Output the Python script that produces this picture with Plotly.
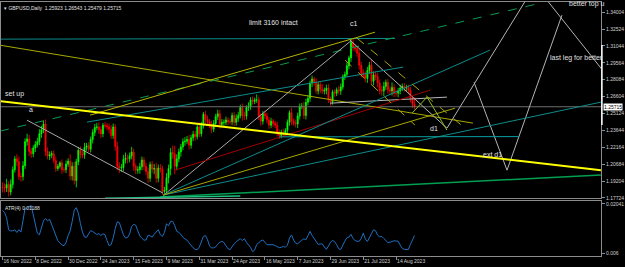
import plotly.graph_objects as go
import pandas as pd

# ---------------- data ----------------
dates = pd.bdate_range("2022-11-16", "2023-08-25")
dates = dates[dates != pd.Timestamp("2023-01-02")]
bars = list(range(len(dates)))

close_nov = [1.1865, 1.1860, 1.1890, 1.1825, 1.1890, 1.2020, 1.2115, 1.2090, 1.1960, 1.1960, 1.2055]
close_dec = [1.2265, 1.2290, 1.2180, 1.2160, 1.2210, 1.2240, 1.2265, 1.2335, 1.2370, 1.2420, 1.2180,
             1.2140, 1.2150, 1.2160, 1.2100, 1.2030, 1.2050, 1.2080, 1.2020, 1.2020, 1.2070, 1.2095]
close_jan = [1.1965, 1.2050, 1.1925, 1.2090, 1.2190, 1.2155, 1.2150, 1.2215, 1.2230, 1.2200, 1.2285,
             1.2345, 1.2390, 1.2395, 1.2370, 1.2335, 1.2410, 1.2405, 1.2395, 1.2375, 1.2320]
close_feb = [1.2395, 1.2225, 1.2050, 1.2035, 1.2040, 1.2110, 1.2120, 1.2115, 1.2140, 1.2175, 1.2050,
             1.2015, 1.2020, 1.2045, 1.2105, 1.2050, 1.2005, 1.1945, 1.2065, 1.2025]
close_mar = [1.2030, 1.1945, 1.2035, 1.2025, 1.1830, 1.1840, 1.1950, 1.2030, 1.2170, 1.2160, 1.2050,
             1.2115, 1.2175, 1.2220, 1.2265, 1.2270, 1.2285, 1.2235, 1.2300, 1.2330, 1.2310, 1.2395, 1.2335]
close_apr = [1.2410, 1.2505, 1.2460, 1.2440, 1.2410, 1.2375, 1.2425, 1.2485, 1.2510, 1.2415, 1.2435,
             1.2435, 1.2455, 1.2440, 1.2440, 1.2495, 1.2435, 1.2470, 1.2495, 1.2565]
close_may = [1.2490, 1.2490, 1.2565, 1.2570, 1.2630, 1.2620, 1.2630, 1.2630, 1.2485, 1.2445, 1.2510,
             1.2490, 1.2455, 1.2410, 1.2445, 1.2425, 1.2410, 1.2345, 1.2320, 1.2345, 1.2340, 1.2365, 1.2435]
close_jun = [1.2520, 1.2445, 1.2430, 1.2420, 1.2490, 1.2575, 1.2575, 1.2495, 1.2610, 1.2645, 1.2780,
             1.2815, 1.2785, 1.2710, 1.2765, 1.2725, 1.2710, 1.2715, 1.2735, 1.2635, 1.2615, 1.2700]
close_jul = [1.2690, 1.2720, 1.2710, 1.2745, 1.2835, 1.2855, 1.2930, 1.3000, 1.3135, 1.3090, 1.3080,
             1.3040, 1.2935, 1.2865, 1.2855, 1.2820, 1.2890, 1.2935, 1.2795, 1.2850, 1.2835]
close_aug = [1.2780, 1.2715, 1.2710, 1.2750, 1.2785, 1.2720, 1.2710, 1.2740, 1.2690, 1.2690, 1.2710,
             1.2735, 1.2750, 1.2735, 1.2740, 1.2715, 1.2645, 1.2592, 1.25715]
closes = close_nov + close_dec + close_jan + close_feb + close_mar + close_apr + close_may + close_jun + close_jul + close_aug
first_open = 1.1870

# wick sizes in pips
up_wick = [40, 35, 50, 30, 45, 30, 25, 40, 45, 35, 40,
           30, 45, 35, 30, 25, 30, 35, 40, 35, 30, 40, 35, 30, 25, 30, 35, 20, 15, 30, 25, 30, 25,
           60, 35, 40, 25, 30, 35, 30, 40, 25, 30, 25, 30, 30, 35, 40, 30, 20, 30, 25, 30, 35,
           30, 25, 40, 35, 30, 40, 50, 35, 30, 45, 30, 25, 30, 35, 30, 25, 30, 35, 25, 30,
           40, 50, 30, 35, 30, 30, 40, 35, 40, 60, 70, 40, 30, 25, 30, 35, 30, 40, 25, 30, 30, 20, 40,
           30, 20, 30, 35, 25, 40, 30, 25, 35, 35, 30, 25, 30, 25, 30, 25, 30, 35, 30, 25,
           35, 40, 20, 40, 25, 30, 20, 50, 30, 30, 25, 30, 30, 25, 30, 20, 25, 30, 25, 25, 30, 20, 25,
           20, 40, 25, 30, 30, 25, 30, 40, 30, 30, 20, 30, 20, 35, 25, 30, 45, 25, 30, 35, 25, 20,
           25, 20, 35, 30, 20, 25, 30, 20, 30, 35, 30, 25, 40, 30, 35, 25, 30, 30, 45, 30, 30,
           35, 30, 40, 40, 25, 30, 30, 45, 30, 30, 25, 30, 25, 30, 25, 25, 30, 20, 62.8]
dn_wick = [45, 40, 35, 40, 30, 35, 25, 40, 30, 45, 35,
           30, 35, 40, 35, 30, 35, 25, 30, 35, 30, 40, 30, 35, 30, 25, 30, 20, 20, 35, 25, 30, 25,
           35, 40, 35, 60, 30, 35, 30, 35, 30, 25, 30, 35, 30, 25, 35, 40, 30, 25, 30, 35, 30,
           30, 40, 35, 45, 35, 30, 35, 40, 30, 30, 40, 35, 30, 35, 30, 35, 30, 40, 30, 35,
           45, 40, 35, 30, 30, 35, 40, 50, 60, 45, 70, 35, 30, 40, 30, 35, 25, 40, 30, 30, 35, 25, 30,
           25, 30, 35, 30, 25, 35, 25, 30, 30, 35, 25, 30, 25, 30, 25, 30, 35, 30, 30, 25,
           40, 35, 30, 30, 25, 30, 25, 25, 30, 40, 30, 25, 30, 35, 25, 30, 25, 35, 30, 25, 30, 25, 30,
           30, 35, 25, 30, 35, 30, 25, 30, 35, 25, 30, 35, 30, 25, 30, 35, 25, 30, 35, 30, 35, 25,
           30, 25, 30, 35, 25, 30, 25, 30, 35, 30, 25, 30, 40, 35, 30, 35, 40, 30, 35, 35, 30,
           40, 35, 40, 45, 30, 35, 30, 40, 35, 30, 35, 30, 25, 30, 30, 30, 35, 30, 23.6]

atr4 = [0.01850, 0.01790, 0.01635, 0.01281, 0.01251, 0.01253, 0.01280, 0.01204, 0.01285, 0.01215,
        0.01551, 0.01922, 0.01912, 0.01973, 0.01994, 0.01742, 0.01447, 0.01185, 0.01135, 0.01359,
        0.01546, 0.01613, 0.01549, 0.01591, 0.01430, 0.01249, 0.01068, 0.00958, 0.00897, 0.00836,
        0.00816, 0.00907, 0.01112, 0.01255, 0.01527, 0.01862, 0.01934, 0.01774, 0.01472, 0.01217,
        0.01070, 0.01060, 0.01162, 0.01257, 0.01232, 0.01195, 0.01143, 0.01172, 0.01113, 0.01165,
        0.01139, 0.00964, 0.00814, 0.00848, 0.01045, 0.01323, 0.01521, 0.01492, 0.01276, 0.01132,
        0.01044, 0.01056, 0.01161, 0.01384, 0.01444, 0.01416, 0.01252, 0.01100, 0.01034, 0.00979,
        0.00982, 0.01122, 0.01104, 0.01069, 0.01151, 0.01222, 0.01285, 0.01138, 0.01084, 0.01205,
        0.01458, 0.01403, 0.01531, 0.01531, 0.01410, 0.01236, 0.01206, 0.01151, 0.01061, 0.01017,
        0.00979, 0.00899, 0.00819, 0.00753, 0.00705, 0.00698, 0.00772, 0.00955, 0.01086, 0.01113,
        0.00992, 0.00808, 0.00747, 0.00752, 0.00781, 0.00860, 0.00916, 0.00940, 0.00910, 0.00811,
        0.00727, 0.00700, 0.00791, 0.00870, 0.00929, 0.00989, 0.01023, 0.00963, 0.01023, 0.00914,
        0.00840, 0.00764, 0.00643, 0.00688, 0.00849, 0.00910, 0.00956, 0.00985, 0.00924, 0.00845,
        0.00845, 0.00845, 0.00845, 0.00819, 0.00788, 0.00757, 0.00767, 0.00796, 0.00767, 0.00827,
        0.01041, 0.01132, 0.00980, 0.00890, 0.00874, 0.00937, 0.00978, 0.01018, 0.00988, 0.01105,
        0.01237, 0.01119, 0.01032, 0.00941, 0.00851, 0.00866, 0.00866, 0.00777, 0.00706, 0.00803,
        0.00919, 0.00969, 0.00936, 0.00846, 0.00726, 0.00704, 0.00855, 0.00952, 0.01048, 0.01071,
        0.01149, 0.01025, 0.00967, 0.00943, 0.00943, 0.01035, 0.01185, 0.01010, 0.00937, 0.01058,
        0.01178, 0.01283, 0.01253, 0.01121, 0.01074, 0.01087, 0.01027, 0.00967, 0.00907, 0.00918,
        0.00945, 0.00957, 0.00956, 0.00944, 0.00833, 0.00738, 0.00706, 0.00698, 0.00703, 0.00854,
        0.00992, 0.01113]

x_tick_text = ["16 Nov 2022", "8 Dec 2022", "30 Dec 2022", "24 Jan 2023", "15 Feb 2023", "9 Mar 2023",
               "31 Mar 2023", "24 Apr 2023", "16 May 2023", "7 Jun 2023", "29 Jun 2023", "21 Jul 2023",
               "14 Aug 2023"]
price_ticks = [1.34004, 1.32524, 1.31044, 1.29564, 1.28084, 1.26604, 1.25124, 1.23644, 1.22164,
               1.20684, 1.19204, 1.17724]
atr_ticks = [0.02041, 0.006]
bid_price = 1.25715
header_text = "GBPUSD,Daily  1.25923 1.26543 1.25479 1.25715"
atr_text = "ATR(4) 0.01188"

# drawn objects (bar index, price)
line_setup = ([-1.22, 291.9], [1.2621, 1.2016])
line_limit = ([-1.22, 191.5], [1.3164, 1.3170])
line_olive_top = ([-1.22, 229.5], [1.3111, 1.2428])
line_green_dash = ([-1.22, 262.2], [1.2358, 1.3479])
line_a = ([11.95, 78.3], [1.2454, 1.1815])
line_low_c1 = ([79.0, 170.0], [1.1803, 1.3150])
path_c1_d1 = ([169.5, 216.8, 259.8, 301.2], [1.3155, 1.2384, 1.3637, 1.2700])
path_ext = ([230.0, 246.1, 272.9], [1.2787, 1.2016, 1.3374])
line_gray_flat = ([159.8, 216.8], [1.2603, 1.2656])
line_red = ([84.1, 208.5], [1.2016, 1.2717])
fan_teal_1 = ([78.3, 237.8], [1.1797, 1.3068])
fan_teal_2 = ([78.3, 291.9], [1.1797, 1.2612])
fan_olive = ([78.3, 220.7], [1.1797, 1.2559])
line_may_low = ([135.0, 252.0], [1.2308, 1.2310])
fan_green = ([76.8, 291.9], [1.1780, 1.1973])
line_green_low = ([50.0, 116.0], [1.1771, 1.1789])
line_teal_up = ([41.2, 195.4], [1.2437, 1.2919])
line_yellow_up = ([42.7, 181.7], [1.2498, 1.3225])
chan_dash_1 = ([172.9, 225.6], [1.3173, 1.2384])
chan_dash_2 = ([167.1, 201.2], [1.2980, 1.2411])
zigzag_d1 = ([199.8, 207.1, 216.8], [1.2516, 1.2656, 1.2367])

label_text = ["limit 3160 intact", "c1", "better top u", "last leg for better", "set up", "a", "d1", "ext d1"]
label_bar = [119.3, 168.5, 275.4, 266.1, 0.2, 11.8, 207.6, 233.4]
label_price = [1.3313, 1.3304, 1.3468, 1.2997, 1.2682, 1.2551, 1.2384, 1.2157]

# ---------------- build ----------------
opens = [first_open] + closes[:-1]
highs = [max(o, c) + u * 0.0001 for o, c, u in zip(opens, closes, up_wick)]
lows = [min(o, c) - d * 0.0001 for o, c, d in zip(opens, closes, dn_wick)]

date_labels = [f"{d.day} {d.strftime('%b %Y')}" for d in dates]
x_tick_vals = [date_labels.index(t) for t in x_tick_text]

FONT = "Liberation Sans, Arial, sans-serif"
fig = go.Figure()

fig.add_trace(go.Candlestick(
    x=bars, open=opens, high=highs, low=lows, close=closes,
    increasing=dict(line=dict(color="#00ff00", width=0.8), fillcolor="#00ff00"),
    decreasing=dict(line=dict(color="#ff0000", width=0.8), fillcolor="#ff0000"),
    whiskerwidth=0, showlegend=False, hoverinfo="skip", xaxis="x", yaxis="y"))


def add_line(pts, color, width=1, dash="solid"):
    fig.add_trace(go.Scatter(x=pts[0], y=pts[1], mode="lines",
                             line=dict(color=color, width=width, dash=dash),
                             showlegend=False, hoverinfo="skip", xaxis="x", yaxis="y"))


add_line(([-2, 300], [bid_price, bid_price]), "#6e6e6e", 1)
add_line(line_limit, "#0c8c8c", 1)
add_line(line_olive_top, "#a8a800", 1)
add_line(line_green_dash, "#0a9a50", 1, "dash")
add_line(line_a, "#a8a8a8", 1)
add_line(line_low_c1, "#a8a8a8", 1)
add_line(path_c1_d1, "#b4b4b4", 1)
add_line(path_ext, "#b4b4b4", 1)
add_line(line_gray_flat, "#b8b8b8", 1)
add_line(line_red, "#a00000", 1)
add_line(fan_teal_1, "#0c8c8c", 1)
add_line(fan_teal_2, "#0c8c8c", 1)
add_line(fan_olive, "#a8a800", 1)
add_line(line_may_low, "#0aa0a0", 1)
add_line(fan_green, "#00a050", 1.5)
add_line(line_green_low, "#20c080", 1.5)
add_line(line_teal_up, "#0c8c8c", 1)
add_line(line_yellow_up, "#b4b400", 1)
add_line(chan_dash_1, "#a8a800", 1, "dash")
add_line(chan_dash_2, "#a8a800", 1, "dash")
add_line(zigzag_d1, "#8fbc20", 1)
add_line(line_setup, "#ffff00", 2)

fig.add_trace(go.Scatter(x=bars, y=atr4, mode="lines", line=dict(color="#1f6fc0", width=1),
                         showlegend=False, hoverinfo="skip", xaxis="x2", yaxis="y2"))

for t, xb, yp in zip(label_text, label_bar, label_price):
    fig.add_annotation(x=xb, y=yp, xref="x", yref="y", text=t, showarrow=False,
                       xanchor="left", yanchor="middle",
                       font=dict(family=FONT, size=7, color="#e0e0e0"))

fig.add_annotation(x=0.001, y=0.996, xref="paper", yref="paper", text="▾ " + header_text,
                   showarrow=False, xanchor="left", yanchor="top",
                   font=dict(family=FONT, size=5, color="#e0e0e0"))
fig.add_annotation(x=0.003, y=0.207, xref="paper", yref="paper", text=atr_text,
                   showarrow=False, xanchor="left", yanchor="top",
                   font=dict(family=FONT, size=5, color="#e0e0e0"))
fig.add_annotation(x=1.0, y=bid_price, xref="paper", yref="y", text=f"{bid_price:.5f}",
                   showarrow=False, xanchor="left", yanchor="middle", bgcolor="#ffffff",
                   borderpad=0, xshift=2, font=dict(family=FONT, size=5, color="#000000"))
# price-scale marker on the right border
fig.add_shape(type="line", xref="paper", yref="paper", x0=1.0015, x1=1.0015,
              y0=0.516, y1=0.831, line=dict(color="#ffffff", width=1.5))

axis_common = dict(showgrid=False, zeroline=False, showline=True, mirror=True,
                   linecolor="#8c8c8c", linewidth=1, fixedrange=True)
fig.update_layout(
    width=625, height=267, margin=dict(l=1, r=24, t=2, b=11),
    paper_bgcolor="#000000", plot_bgcolor="#000000", showlegend=False,
    xaxis=dict(domain=[0, 1], range=[-0.73, 291.95], anchor="y", showticklabels=False,
               ticks="", rangeslider=dict(visible=False), **axis_common),
    yaxis=dict(domain=[0.2283, 1], range=[1.17720, 1.34894], side="right", anchor="x",
               tickvals=price_ticks, ticktext=[f"{v:.5f}" for v in price_ticks],
               ticks="outside", ticklen=3, tickcolor="#8c8c8c",
               tickfont=dict(family=FONT, size=5, color="#d0d0d0"), **axis_common),
    xaxis2=dict(domain=[0, 1], range=[-0.73, 291.95], anchor="y2", matches="x",
                tickvals=x_tick_vals, ticktext=x_tick_text, ticks="outside", ticklen=3,
                tickangle=0, tickcolor="#8c8c8c", ticklabelposition="outside right",
                tickfont=dict(family=FONT, size=5, color="#d0d0d0"), **axis_common),
    yaxis2=dict(domain=[0, 0.2165], range=[0.00512, 0.02129], side="right", anchor="x2",
                tickvals=atr_ticks, ticktext=["0.02041", "0.006"],
                ticks="outside", ticklen=3, tickcolor="#8c8c8c",
                tickfont=dict(family=FONT, size=5, color="#d0d0d0"), **axis_common),
)

fig.write_html("out.html")
